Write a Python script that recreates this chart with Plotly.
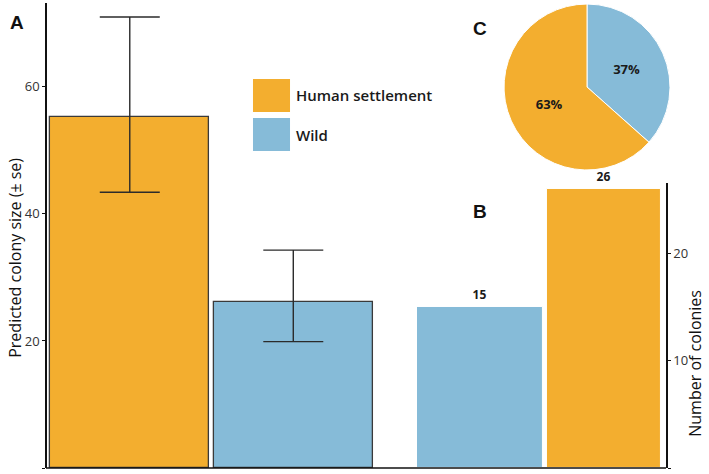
import plotly.graph_objects as go

# ---------------- data ----------------
groups = ["Human settlement", "Wild"]
colors = {"Human settlement": "#F3AE2F", "Wild": "#86BBD8"}

# Panel A: predicted colony size (± se)
pred_size = [55.3, 26.2]
pred_upper = [71.0, 34.3]
pred_lower = [43.4, 19.9]

# Panel B: number of colonies
b_groups = ["Wild", "Human settlement"]
b_counts = [15, 26]

# Panel C: share of colonies
c_groups = ["Wild", "Human settlement"]
c_counts = [15, 26]

left_ticks = [0, 20, 40, 60]
right_ticks = [0, 10, 20]

FONT = "Open Sans"

fig = go.Figure()

# Panel A bars
fig.add_trace(go.Bar(
    x=groups, y=pred_size,
    xaxis="x", yaxis="y",
    width=0.972,
    marker=dict(color=[colors[g] for g in groups], line=dict(color="#3a3a3a", width=1.3)),
    error_y=dict(type="data", symmetric=False,
                 array=[u - v for u, v in zip(pred_upper, pred_size)],
                 arrayminus=[v - l for v, l in zip(pred_size, pred_lower)],
                 color="#2b2b2b", thickness=1.4, width=30),
    showlegend=False, hoverinfo="skip",
))

# Panel B bars
fig.add_trace(go.Bar(
    x=b_groups, y=b_counts,
    xaxis="x2", yaxis="y2",
    width=[1.02, 0.92],
    marker=dict(color=[colors[g] for g in b_groups], line=dict(color="white", width=1)),
    text=[str(v) for v in b_counts], textposition="outside",
    textfont=dict(family=FONT, size=12, color="#1a1a1a", weight="bold"),
    cliponaxis=False,
    showlegend=False, hoverinfo="skip",
))

# Panel C pie
fig.add_trace(go.Pie(
    labels=c_groups, values=c_counts,
    sort=False, direction="clockwise", rotation=0,
    marker=dict(colors=[colors[g] for g in c_groups], line=dict(color="white", width=1)),
    texttemplate="%{percent:.0%}", textposition="inside",
    insidetextorientation="horizontal",
    textfont=dict(family=FONT, size=13, color="#1a1a1a", weight="bold"),
    domain=dict(x=[0.7236, 0.9858], y=[0.6409, 0.9978]),
    showlegend=False, hoverinfo="skip",
))

# Legend drawn as squares + labels
leg_shapes = []
leg_ann = []
leg_y = [(0.7656, 0.8366), (0.6817, 0.7527)]
for g, (y0, y1) in zip(groups, leg_y):
    leg_shapes.append(dict(type="rect", xref="paper", yref="paper",
                           x0=0.327, x1=0.3855, y0=y0, y1=y1,
                           fillcolor=colors[g], line=dict(width=0)))
    leg_ann.append(dict(xref="paper", yref="paper", x=0.392, y=(y0 + y1) / 2,
                        text=g, showarrow=False, xanchor="left", yanchor="middle",
                        font=dict(family=FONT, size=15, color="#1a1a1a", weight=600)))

panel_labels = [("A", -0.046, 0.959), ("B", 0.686, 0.551), ("C", 0.686, 0.946)]
for t, x, y in panel_labels:
    leg_ann.append(dict(xref="paper", yref="paper", x=x, y=y, text=t, showarrow=False,
                        xanchor="center", yanchor="middle",
                        font=dict(family="Liberation Sans", size=19, color="#111", weight="bold")))

# axis titles
leg_ann.append(dict(xref="paper", yref="paper", x=-0.049, y=0.452,
                    text="Predicted colony size (± se)", textangle=-90, showarrow=False,
                    xanchor="center", yanchor="middle",
                    font=dict(family=FONT, size=16, color="#111")))
leg_ann.append(dict(xref="paper", yref="paper", x=1.025, y=0.226,
                    text="Number of colonies", textangle=-90, showarrow=False,
                    xanchor="center", yanchor="middle",
                    font=dict(family=FONT, size=16, color="#111")))

# baseline
leg_shapes.append(dict(type="line", xref="paper", yref="paper", x0=0, x1=0.9795, y0=0, y1=0,
                       line=dict(color="#111", width=1.5)))

fig.update_layout(
    width=709, height=474,
    margin=dict(l=46, r=30, t=3, b=6),
    paper_bgcolor="white", plot_bgcolor="white",
    font=dict(family=FONT, size=13, color="#333"),
    bargap=0,
    shapes=leg_shapes, annotations=leg_ann,
    xaxis=dict(domain=[0.0032, 0.5198], showticklabels=False, ticks="", showline=False,
               showgrid=False, zeroline=False, fixedrange=True),
    xaxis2=dict(domain=[0.586, 0.9795], showticklabels=False, ticks="", showline=False,
                showgrid=False, zeroline=False, anchor="y2"),
    yaxis=dict(domain=[0, 1], range=[0, 73.2], anchor="free", position=0,
               tickvals=left_ticks, ticks="outside", ticklen=3, tickwidth=1.2, tickcolor="#111",
               showline=True, linecolor="#111", linewidth=1.5, showgrid=False, zeroline=False,
               tickfont=dict(family=FONT, size=13, color="#333")),
    yaxis2=dict(domain=[0, 0.613], range=[0, 26.6], anchor="x2", side="right",
                tickvals=right_ticks, ticks="outside", ticklen=3, tickwidth=1.2, tickcolor="#111",
                showline=True, linecolor="#111", linewidth=1.5, showgrid=False, zeroline=False,
                tickfont=dict(family=FONT, size=13, color="#333")),
)

fig.write_html("out.html")
